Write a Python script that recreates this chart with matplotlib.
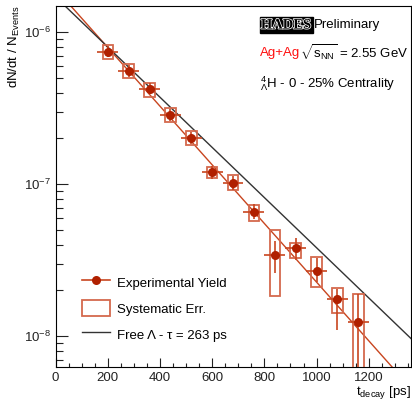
import numpy as np
import matplotlib
matplotlib.use("Agg")
import matplotlib.pyplot as plt
import matplotlib.patheffects as pe
from matplotlib.patches import Rectangle
from matplotlib.lines import Line2D
from matplotlib.ticker import LogLocator, MultipleLocator, NullFormatter

plt.rcParams['font.family'] = ['Liberation Sans', 'DejaVu Sans']
plt.rcParams['mathtext.fontset'] = 'custom'
plt.rcParams['mathtext.rm'] = 'Liberation Sans'
plt.rcParams['mathtext.it'] = 'Liberation Sans:italic'
plt.rcParams['mathtext.bf'] = 'Liberation Sans:bold'

# ── data ──────────────────────────────────────────────────
t_decay = [200, 280, 360, 440, 520, 600, 680, 760, 840, 920, 1000, 1080, 1160]
yield_val = [7.45e-7, 5.56e-7, 4.26e-7, 2.86e-7, 2.02e-7, 1.20e-7, 1.02e-7,
             6.6e-8, 3.40e-8, 3.78e-8, 2.69e-8, 1.75e-8, 1.24e-8]
stat_hi = [8.1e-7, 6.05e-7, 4.62e-7, 3.12e-7, 2.22e-7, 1.31e-7, 1.13e-7,
           7.38e-8, 4.22e-8, 4.45e-8, 3.25e-8, 2.04e-8, 1.90e-8]
stat_lo = [6.85e-7, 5.1e-7, 3.9e-7, 2.62e-7, 1.84e-7, 1.09e-7, 9.1e-8,
           5.87e-8, 2.59e-8, 3.18e-8, 2.26e-8, 1.10e-8, 4.0e-9]
sys_hi = [8.24e-7, 6.15e-7, 4.67e-7, 3.16e-7, 2.25e-7, 1.29e-7, 1.15e-7,
          7.31e-8, 4.97e-8, 4.13e-8, 3.32e-8, 2.06e-8, 1.88e-8]
sys_lo = [6.67e-7, 4.98e-7, 3.77e-7, 2.56e-7, 1.82e-7, 1.10e-7, 9.12e-8,
          5.75e-8, 1.84e-8, 3.26e-8, 2.12e-8, 1.43e-8, 2.0e-9]
bin_half = 40      # horizontal stat bar half-width [ps]
sys_half = 20      # systematic box half-width [ps]

fit_norm, fit_tau = 1.93e-6, 225.0     # red exponential fit
free_norm, free_tau = 1.71e-6, 263.0   # free Lambda lifetime

C_MARK = '#b02000'
C_LINE = '#c8451f'
C_BOX = '#d4694d'


def main():
    fig = plt.figure(figsize=(4.12, 4.0), dpi=100)
    ax = fig.add_axes([0.135, 0.083, 0.862, 0.902])

    t = np.array(t_decay, dtype=float)
    y = np.array(yield_val)
    yerr = np.vstack([y - np.array(stat_lo), np.array(stat_hi) - y])

    # systematic boxes
    for ti, lo, hi in zip(t, sys_lo, sys_hi):
        ax.add_patch(Rectangle((ti - sys_half, lo), 2 * sys_half, hi - lo,
                               fill=False, edgecolor=C_BOX, lw=1.3, zorder=3))

    # fit / reference lines
    tt = np.linspace(0, 1400, 200)
    ax.plot(tt, fit_norm * np.exp(-tt / fit_tau), color=C_LINE, lw=1.0, zorder=2)
    ax.plot(tt, free_norm * np.exp(-tt / free_tau), color='#333333', lw=1.0, zorder=2)

    ax.errorbar(t, y, xerr=bin_half, yerr=yerr, fmt='o', color=C_MARK,
                ecolor=C_LINE, elinewidth=1.2, capsize=0, markersize=6.5,
                markeredgewidth=0, zorder=4)

    ax.set_yscale('log')
    ax.set_xlim(0, 1361)
    ax.set_ylim(6.28e-9, 1.49e-6)

    ax.xaxis.set_major_locator(MultipleLocator(200))
    ax.xaxis.set_minor_locator(MultipleLocator(50))
    ax.yaxis.set_major_locator(LogLocator(base=10))
    ax.yaxis.set_minor_locator(LogLocator(base=10, subs=np.arange(2, 10)))
    ax.yaxis.set_minor_formatter(NullFormatter())
    ax.tick_params(axis='both', which='both', direction='in', labelsize=9.5,
                   top=False, right=False, width=0.8, colors='#222222')
    ax.tick_params(axis='x', which='major', length=6.5, pad=4)
    ax.tick_params(axis='x', which='minor', length=3.2)
    ax.tick_params(axis='y', which='major', length=8.6, pad=3)
    ax.tick_params(axis='y', which='minor', length=5)
    for s in ax.spines.values():
        s.set_linewidth(0.8)

    ax.set_ylabel(r'dN/dt / N$_{\mathrm{Events}}$', loc='top', fontsize=9.5)
    ax.yaxis.set_label_coords(-0.095, 1.0)
    ax.set_xlabel(r't$_{\mathrm{decay}}$ [ps]', loc='right', fontsize=9.5,
                  labelpad=-0.5)

    # header texts
    ax.text(0.578, 0.947, 'HADES', transform=ax.transAxes, fontsize=10.5,
            family='Liberation Serif', fontweight='bold', color='black', va='center',
            bbox=dict(boxstyle='square,pad=0.08', facecolor='black', edgecolor='black'),
            path_effects=[pe.withStroke(linewidth=1.1, foreground='white')])
    ax.text(0.728, 0.947, 'Preliminary', transform=ax.transAxes, fontsize=9.5,
            va='center')
    ax.text(0.576, 0.870, 'Ag+Ag', transform=ax.transAxes, fontsize=9.5,
            color='#ff1010', va='center')
    ax.text(0.688, 0.870, r'$\sqrt{\mathrm{s}_{\mathrm{NN}}}$ = 2.55 GeV',
            transform=ax.transAxes, fontsize=9.5, va='center')
    ax.text(0.576, 0.786, r'$^{4}_{\Lambda}$H - 0 - 25% Centrality',
            transform=ax.transAxes, fontsize=9.5, va='center')

    handles = [
        Line2D([], [], color=C_LINE, lw=1.2, marker='o', markersize=6.5,
               markerfacecolor=C_MARK, markeredgewidth=0),
        Rectangle((0, 0), 1, 1, fill=False, edgecolor=C_BOX, lw=1.3),
        Line2D([], [], color='#333333', lw=1.0),
    ]
    labels = ['Experimental Yield', 'Systematic Err.', 'Free Λ - τ = 263 ps']
    ax.legend(handles, labels, loc='lower left', bbox_to_anchor=(0.042, 0.035),
              frameon=False, fontsize=9.5, handlelength=2.1, handleheight=1.5,
              handletextpad=0.55, labelspacing=0.75)

    fig.savefig('out.png', dpi=100)


if __name__ == '__main__':
    main()
